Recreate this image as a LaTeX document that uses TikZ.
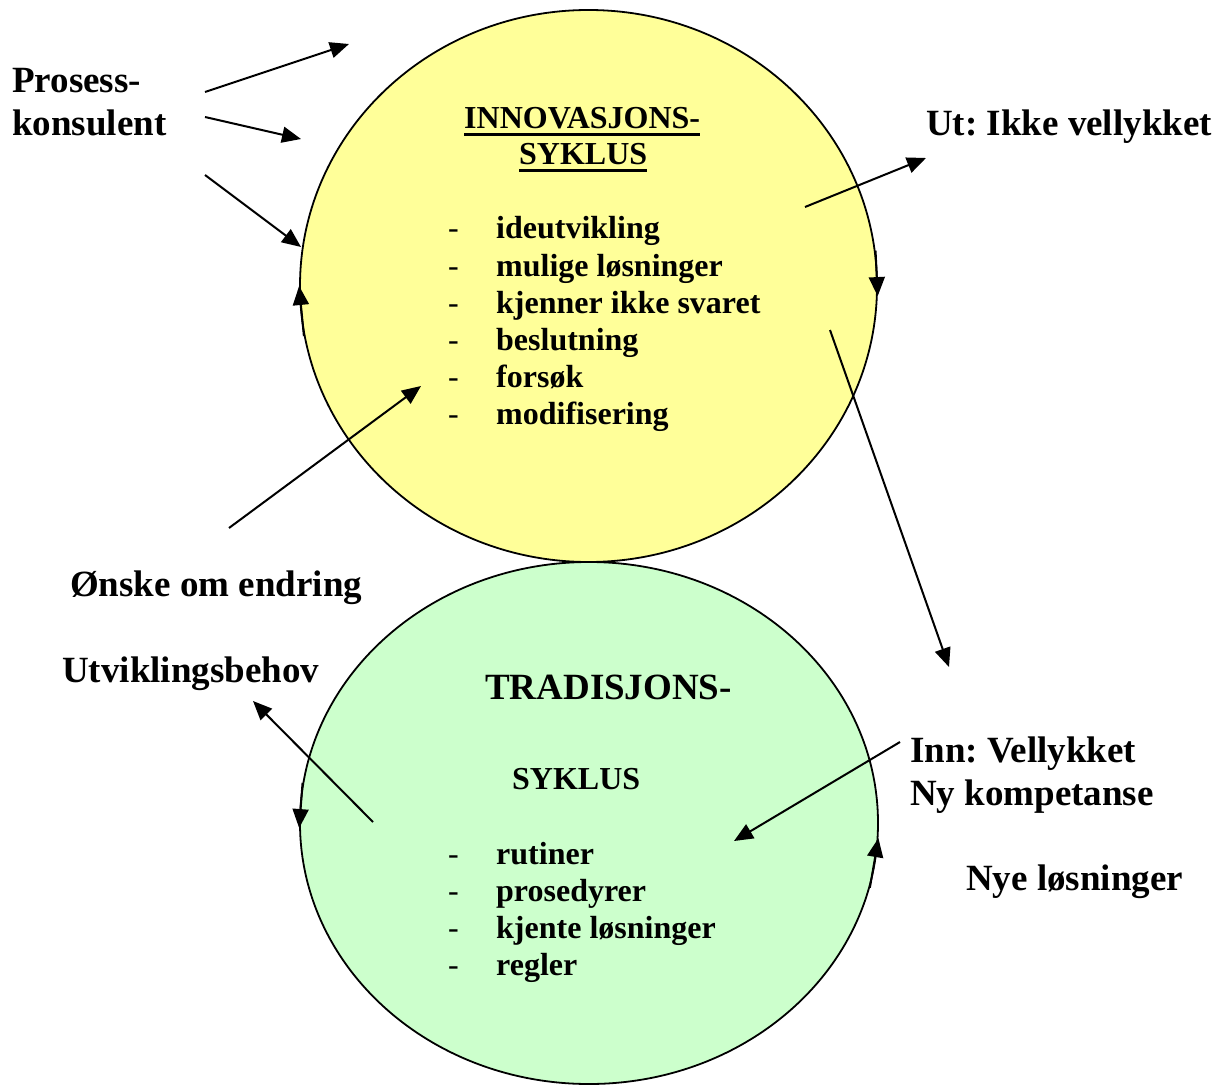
\documentclass[tikz,border=0pt]{standalone}
\usepackage{fontspec}
\setmainfont{Liberation Serif}
\usetikzlibrary{shapes.geometric,arrows.meta}
\definecolor{cyellow}{HTML}{FFFF99}
\definecolor{cgreen}{HTML}{CCFFCC}
\frenchspacing
\begin{document}
\begin{tikzpicture}[x=1pt,y=-1pt,
  big/.style={inner sep=0,anchor=base west,font=\fontsize{37}{44}\selectfont\bfseries},
  med/.style={inner sep=0,anchor=base west,font=\fontsize{32}{37}\selectfont\bfseries},
  dashmark/.style={inner sep=0,anchor=base west,font=\fontsize{32}{37}\selectfont},
  arr/.style={line width=2pt,-{Triangle[length=19pt,width=16pt]}},
  circ/.style={ellipse,draw,line width=1.8pt,inner sep=0}]
\useasboundingbox (0,0) rectangle (1226,1086);
% circles
\node[circ,fill=cyellow,minimum width=577pt,minimum height=552pt] (top) at (588.5,286) {};
\node[circ,fill=cgreen,minimum width=578pt,minimum height=522pt] (bot) at (589,823) {};
% cycle arrows on circles
\draw[arr] (top.190) -- (top.180.5);
\draw[arr] (top.7) -- (top.-2.5);
\draw[arr] (bot.172) -- (bot.181);
\draw[arr] (bot.-13) -- (bot.-3);
% titles
\node[med] (inn) at (464,129) {INNOVASJONS-};
\node[med] (syk1) at (519,165) {SYKLUS};
\draw[line width=3pt] ([yshift=-6pt]inn.base west) -- ([yshift=-6pt]inn.base east);
\draw[line width=3pt] ([yshift=-6pt]syk1.base west) -- ([yshift=-6pt]syk1.base east);
\node[big] (trad) at (485,699) {TRADISJONS-};
\node[med] (syk2) at (512,789) {SYKLUS};
% lists
\foreach \t [count=\i] in {ideutvikling,mulige løsninger,kjenner ikke svaret,beslutning,forsøk,modifisering}{
  \node[dashmark] (da\i) at (448,{202+37*\i}) {-};
  \node[med] (a\i) at (496,{202+37*\i}) {\t};
}
\foreach \t [count=\i] in {rutiner,prosedyrer,kjente løsninger,regler}{
  \node[dashmark] (db\i) at (448,{827+37*\i}) {-};
  \node[med] (b\i) at (496,{827+37*\i}) {\t};
}
% labels
\node[big] (pro1) at (12,93) {Prosess-};
\node[big] (pro2) at (12,136) {konsulent};
\node[big] (ut) at (926,136) {Ut: Ikke vellykket};
\node[big] (onske) at (70,596) {Ønske om endring};
\node[big] (utv) at (62,682) {Utviklingsbehov};
\node[big] (innv) at (910,762) {Inn: Vellykket};
\node[big] (nyk) at (910,805) {Ny kompetanse};
\node[big] (nyl) at (966,890) {Nye løsninger};
% connector end points
\coordinate (p1s) at (205,92);  \coordinate (p1e) at (349,44);
\coordinate (p2s) at (205,117); \coordinate (p2e) at (301,139);
\coordinate (p3s) at (205,175); \coordinate (p3e) at (301,247);
\coordinate (uts) at (805,207); \coordinate (ute) at (926,158);
\coordinate (ons) at (229,528); \coordinate (one) at (421,386);
\coordinate (vls) at (830,330); \coordinate (vle) at (949,667);
\coordinate (ubs) at (373,822); \coordinate (ube) at (253,701);
\coordinate (ins) at (900,742); \coordinate (ine) at (734,841);
\draw[arr] (p1s) -- (p1e);
\draw[arr] (p2s) -- (p2e);
\draw[arr] (p3s) -- (p3e);
\draw[arr] (uts) -- (ute);
\draw[arr] (ons) -- (one);
\draw[arr] (vls) -- (vle);
\draw[arr] (ubs) -- (ube);
\draw[arr] (ins) -- (ine);
\end{tikzpicture}
\end{document}
